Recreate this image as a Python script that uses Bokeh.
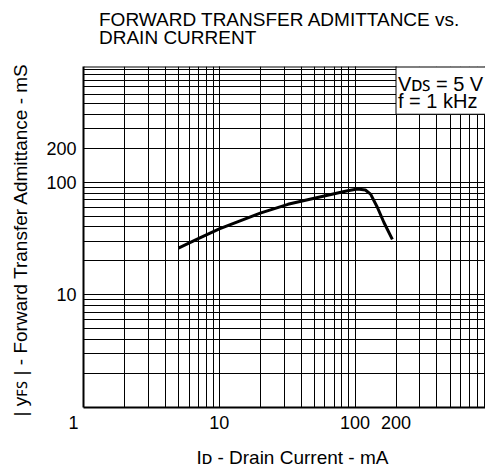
import math
from bokeh.plotting import figure
from bokeh.models import Label, FixedTicker, LogTicker, Span, NumeralTickFormatter
from bokeh.embed import file_html
from bokeh.resources import INLINE

# ---- data ----
drain_current_ma = [5, 7, 10, 20, 32, 50, 88, 104, 119, 130, 146, 163, 188]
yfs_ms = [26, 31.5, 38.5, 53, 63.5, 72, 83.7, 86.7, 85, 78.3, 59.5, 43.8, 31]

NB = "\u00a0"
x_tick_values = [1, 10, 100, 200]
x_tick_labels = ["1" + NB * 4, "10", "100", "200"]
y_tick_values = [10, 100, 200]
y_tick_labels = ["10", "100", "200"]

title_text = "FORWARD TRANSFER ADMITTANCE vs.\nDRAIN CURRENT\n" + NB
x_title = NB * 3 + "I\u1d05 - Drain Current - mA"
y_title = "| y\ua730\ua731 | - Forward Transfer Admittance - mS" + NB
box_line1 = "V\u1d05\ua731 = 5 V"
box_line2 = "f = 1 kHz"

X_RANGE = (1, 912)
Y_RANGE = (1, 1061)
BOX_X0, BOX_Y0 = 200, 400   # legend box corner (data units)

FONT = "Liberation Sans"

p = figure(width=485, height=472, x_axis_type="log", y_axis_type="log",
           x_range=X_RANGE, y_range=Y_RANGE,
           output_backend="svg", toolbar_location=None,
           min_border_left=83, min_border_top=66, min_border_bottom=65,
           min_border_right=0)
p.outline_line_color = None
p.background_fill_color = "white"

# title (two lines, left aligned; trailing blank line lifts it off the frame)
p.title.text = title_text
p.title.align = "left"
p.title.offset = 15.5
p.title.text_font = FONT
p.title.text_font_size = "19px"
p.title.text_font_style = "normal"
p.title.text_color = "black"
p.title.text_line_height = 0.86
p.title.standoff = 0

# grids: every decade line and every minor line
for g in (p.xgrid, p.ygrid):
    g.ticker = LogTicker(num_minor_ticks=10)
    g.grid_line_color = "black"
    g.grid_line_alpha = 1
    g.grid_line_width = 1
    g.minor_grid_line_color = "black"
    g.minor_grid_line_alpha = 1
    g.minor_grid_line_width = 1

p.xaxis.ticker = FixedTicker(ticks=x_tick_values)
p.yaxis.ticker = FixedTicker(ticks=y_tick_values)
p.xaxis.formatter = NumeralTickFormatter(format="0")
p.yaxis.formatter = NumeralTickFormatter(format="0")
p.xaxis.major_label_overrides = dict(zip(x_tick_values, x_tick_labels))
p.yaxis.major_label_overrides = dict(zip(y_tick_values, y_tick_labels))
for ax in (p.xaxis, p.yaxis):
    ax.major_tick_line_color = None
    ax.minor_tick_line_color = None
    ax.major_tick_out = 0
    ax.major_tick_in = 0
    ax.axis_line_color = "black"
    ax.axis_line_width = 2
    ax.major_label_text_font = FONT
    ax.major_label_text_font_size = "18px"
    ax.major_label_text_color = "black"
    ax.axis_label_text_font = FONT
    ax.axis_label_text_font_size = "19px"
    ax.axis_label_text_font_style = "normal"
    ax.axis_label_text_color = "black"
p.xaxis.major_label_standoff = 5
p.yaxis.major_label_standoff = 7
p.xaxis.axis_label = x_title
p.yaxis.axis_label = y_title
p.xaxis.axis_label_standoff = 11
p.yaxis.axis_label_standoff = 12

p.add_layout(Span(location=Y_RANGE[1], dimension="width", line_color="black", line_width=2))

# white legend box in the top-right corner
p.quad(left=[BOX_X0], right=[X_RANGE[1] * 2], bottom=[BOX_Y0], top=[Y_RANGE[1] * 2],
       fill_color="white", line_color="black", line_width=1)

p.line(drain_current_ma, yfs_ms, line_color="black", line_width=3)

# ---- texts inside the frame, positioned in pixels from frame bottom-left ----
X0, Y0 = 83, 407


def lab(text, px, py, size, align="left", baseline="alphabetic"):
    p.add_layout(Label(x=1, y=1, x_units="data", y_units="data",
                       x_offset=px - X0, y_offset=Y0 - py, text=text,
                       text_font=FONT, text_font_size=f"{size}px",
                       text_color="black", text_align=align,
                       text_baseline=baseline))


lab(box_line1, 397.5, 83.8, 20)
lab(box_line2, 397.5, 100.5, 20)

open("out.html", "w").write(file_html(p, INLINE))
